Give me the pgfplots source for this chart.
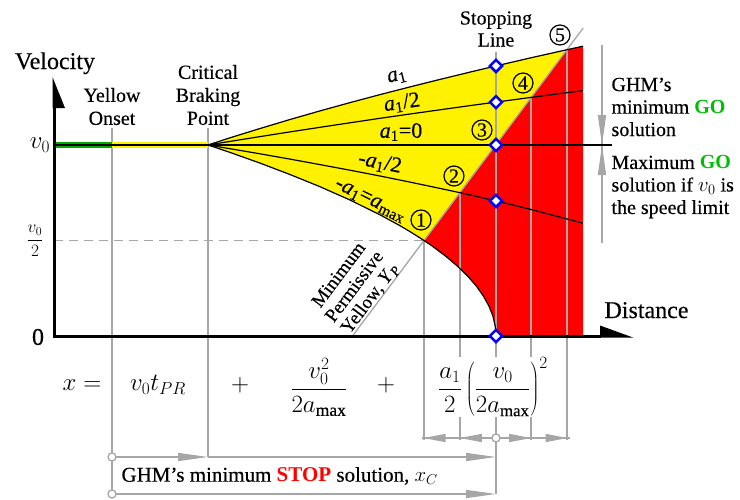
\documentclass[border=0pt]{standalone}
\usepackage{pgfplots}
\pgfplotsset{compat=1.18}
\usepackage{fontspec}
\setmainfont{Liberation Serif}[UprightFeatures={FakeBold=0.35}, ItalicFeatures={FakeBold=0.35}]
\usetikzlibrary{arrows.meta}
\definecolor{lgray}{RGB}{166,166,166}
\definecolor{gogreen}{RGB}{0,190,0}
\definecolor{bandgreen}{RGB}{0,170,0}
\newcommand{\fs}[2]{\fontsize{#1}{#2}\selectfont}
\begin{document}
\begin{tikzpicture}
\begin{axis}[name=ax, scale only axis, width=740pt, height=499pt,
  xmin=0, xmax=740, ymin=0, ymax=499, y dir=reverse, hide axis, clip=false]
% yellow (permissive) region
\addplot[fill=yellow, draw=none] coordinates {(208,145) (230,137.8) (260,128.5) (290,119.5) (320,110.9) (350,102.6) (380,94.6) (410,86.9) (440,79.4) (470,72.1) (496,65.9) (530,58.0) (567,49.7) (424,240.5) (420,237.9) (410,231.6) (400,225.7) (380,214.8) (350,200.0) (320,186.7) (290,174.5) (260,163.1) (230,152.4) (208,145)};
% red region
\addplot[fill=red, draw=none] coordinates {(424,240.5) (567,49.7) (583,46.2) (583,336) (496,336) (495.8,331) (495.2,326) (492.9,316) (488.9,306) (483.4,296) (476.3,286) (467.6,276) (457.3,266) (445.5,256) (432.1,246) (424,240.5)};
% gray construction lines
\draw[lgray, line width=1.5pt, dash pattern=on 9pt off 6pt] (54,240.5) -- (424,240.5);
\draw[lgray, line width=1.3pt] (352.5,336) -- (583.2,28);
\draw[lgray, line width=1.5pt] (112,128) -- (112,494);
\draw[lgray, line width=1.5pt] (208,128) -- (208,457);
\draw[lgray, line width=1.5pt] (496,52) -- (496,494);
\draw[lgray, line width=1.5pt] (424,240.5) -- (424,440);
\draw[lgray, line width=1.5pt] (459.8,192.7) -- (459.8,440);
\draw[lgray, line width=1.5pt] (531.2,97.4) -- (531.2,440);
\draw[lgray, line width=1.5pt] (567,49.7) -- (567,440);
% right bracket
\draw[lgray, line width=1.3pt] (602,45) -- (602,243);
\draw[lgray, line width=1.3pt, -{Triangle[length=30pt,width=8pt]}] (602,112) -- (602,145);
\draw[lgray, line width=1.3pt, -{Triangle[length=30pt,width=8pt]}] (602,178) -- (602,145);
% dimension rows
\draw[lgray, line width=1.3pt] (422,438) -- (570,438);
\draw[lgray, line width=1.3pt, -{Triangle[length=22pt,width=8pt]}] (496,438) -- (459.8,438);
\draw[lgray, line width=1.3pt, -{Triangle[length=22pt,width=8pt]}] (459.8,438) -- (423.5,438);
\draw[lgray, line width=1.3pt, -{Triangle[length=22pt,width=8pt]}] (496,438) -- (531.2,438);
\draw[lgray, line width=1.3pt, -{Triangle[length=22pt,width=8pt]}] (531.2,438) -- (567.5,438);
\draw[lgray, line width=1.3pt, fill=white] (496,438) circle[radius=4pt];
\draw[lgray, line width=1.3pt, -{Triangle[length=30pt,width=8pt]}] (112,457) -- (208,457);
\draw[lgray, line width=1.3pt, -{Triangle[length=30pt,width=8pt]}] (208,457) -- (496,457);
\draw[lgray, line width=1.3pt, fill=white] (112,457) circle[radius=4pt];
\draw[lgray, line width=1.3pt, -{Triangle[length=30pt,width=8pt]}] (112,494) -- (496,494);
\draw[lgray, line width=1.3pt, fill=white] (112,494) circle[radius=4pt];
% bands at v0
\draw[bandgreen, line width=6pt] (54,145) -- (112,145);
\draw[yellow, line width=6pt] (112,145) -- (208,145);
% velocity profiles
\addplot[black, line width=1.2pt] coordinates {(54,145) (612,145)};
\addplot[black, line width=1.2pt] coordinates {(208,145) (230,137.8) (260,128.5) (290,119.5) (320,110.9) (350,102.6) (380,94.6) (410,86.9) (440,79.4) (470,72.1) (496,65.9) (530,58.0) (567,49.7) (583,46.2)};
\addplot[black, line width=1.2pt] coordinates {(208,145) (230,141.4) (260,136.6) (290,131.9) (320,127.3) (350,122.8) (380,118.3) (410,114.0) (440,109.8) (470,105.6) (496,102.1) (531,97.4) (583,90.6)};
\addplot[black, line width=1.2pt] coordinates {(208,145) (230,148.7) (260,153.8) (290,159.1) (320,164.6) (350,170.2) (380,176.0) (410,182.1) (440,188.4) (460,192.7) (496,200.9) (530,209.2) (583,223.2)};
\addplot[black, line width=1.2pt] coordinates {(208,145) (230,152.4) (260,163.1) (290,174.5) (320,186.7) (350,200.0) (380,214.8) (400,225.7) (410,231.6) (420,237.9) (424,240.5) (432.1,246) (445.5,256) (457.3,266) (467.6,276) (476.3,286) (483.4,296) (488.9,306) (492.9,316) (495.2,326) (495.8,331) (496,336)};
% axes
\draw[line width=3pt] (54,108) -- (54,336) -- (601,336);
\fill (52.5,77) -- (52.5,108) -- (65,108) -- cycle;
\fill (600,325.5) -- (600,337.5) -- (633,337.5) -- cycle;
% stopping-line markers
\addplot[only marks, mark=square*, mark size=4.3pt, mark options={rotate=45, draw=blue, fill=white, line width=2.5pt}] coordinates {(496,65.9) (496,102.1) (496,145) (496,200.9) (496,336)};
% texts
\node[font=\fs{24}{28}, anchor=base] at (55,69) {Velocity};
\node[font=\fs{24}{28}, anchor=base west] at (601,318) {Distance};
\node[font=\fs{20}{23}, align=center] at (112,106.5) {Yellow\\Onset};
\node[font=\fs{20}{23}, align=center] at (208,95) {Critical\\Braking\\Point};
\node[font=\fs{20}{22}, align=center] at (496,29) {Stopping\\Line};
\node at (40,145) {\fs{26}{30}$v_0$};
\node at (35,241) {\fs{17}{20}$\displaystyle\frac{v_0}{2}$};
\node at (38,337) {\fs{24}{28}0};
\node[font=\fs{22}{24}, rotate=14] at (397,77) {\textit{a}\textsubscript{1}};
\node[font=\fs{22}{24}, rotate=8] at (402,103) {\textit{a}\textsubscript{1}/2};
\node[font=\fs{22}{24}] at (401,132) {\textit{a}\textsubscript{1}=0};
\node[font=\fs{22}{24}, rotate=-11.5] at (380,163) {-\textit{a}\textsubscript{1}/2};
\node[font=\fs{22}{24}, rotate=-26] at (370,201) {-\textit{a}\textsubscript{1}=\textit{a}\textsubscript{max}};
\node[draw, circle, line width=1.2pt, minimum size=20pt, inner sep=0pt, font=\fs{20}{20}] at (421,220) {1};
\node[draw, circle, line width=1.2pt, minimum size=20pt, inner sep=0pt, font=\fs{20}{20}] at (454,176) {2};
\node[draw, circle, line width=1.2pt, minimum size=20pt, inner sep=0pt, font=\fs{20}{20}] at (482,130) {3};
\node[draw, circle, line width=1.2pt, minimum size=20pt, inner sep=0pt, font=\fs{20}{20}] at (523,83) {4};
\node[draw, circle, line width=1.2pt, minimum size=20pt, inner sep=0pt, font=\fs{20}{20}] at (560,35) {5};
\node[rotate=53.1, align=center, font=\fs{19}{19.5}] at (355,287) {Minimum\\Permissive\\Yellow, \textit{Y}\textsubscript{\textit{P}}};
\node[font=\fs{20}{22.5}, align=left, anchor=west] at (608,107) {GHM's\\minimum \textbf{\textcolor{gogreen}{GO}}\\solution};
\node[font=\fs{20}{22.5}, align=left, anchor=west] at (608,187) {Maximum \textbf{\textcolor{gogreen}{GO}}\\solution if $v_0$ is\\the speed limit};
\node at (82,385) {\fs{24}{28}$x=$};
\node at (158,385) {\fs{23}{26}$v_0t_{PR}$};
\node at (240,385) {\fs{24}{28}$+$};
\node at (319,387) {\fs{25}{28}$\displaystyle\frac{v_0^2}{2a_{\mathrm{max}}}$};
\node at (386,385) {\fs{24}{28}$+$};
\node[fill=white, inner sep=1pt] at (493,387) {\fs{24}{28}$\displaystyle\frac{a_1}{2}\left(\frac{v_0}{2a_{\mathrm{max}}}\right)^{2}$};
\node[anchor=west, font=\fs{21}{24}] at (118,476) {GHM's minimum \textbf{\textcolor{red}{STOP}} solution, $x_C$};
\end{axis}
\pgfresetboundingbox
\path (ax.south west) rectangle (ax.north east);
\end{tikzpicture}
\end{document}
